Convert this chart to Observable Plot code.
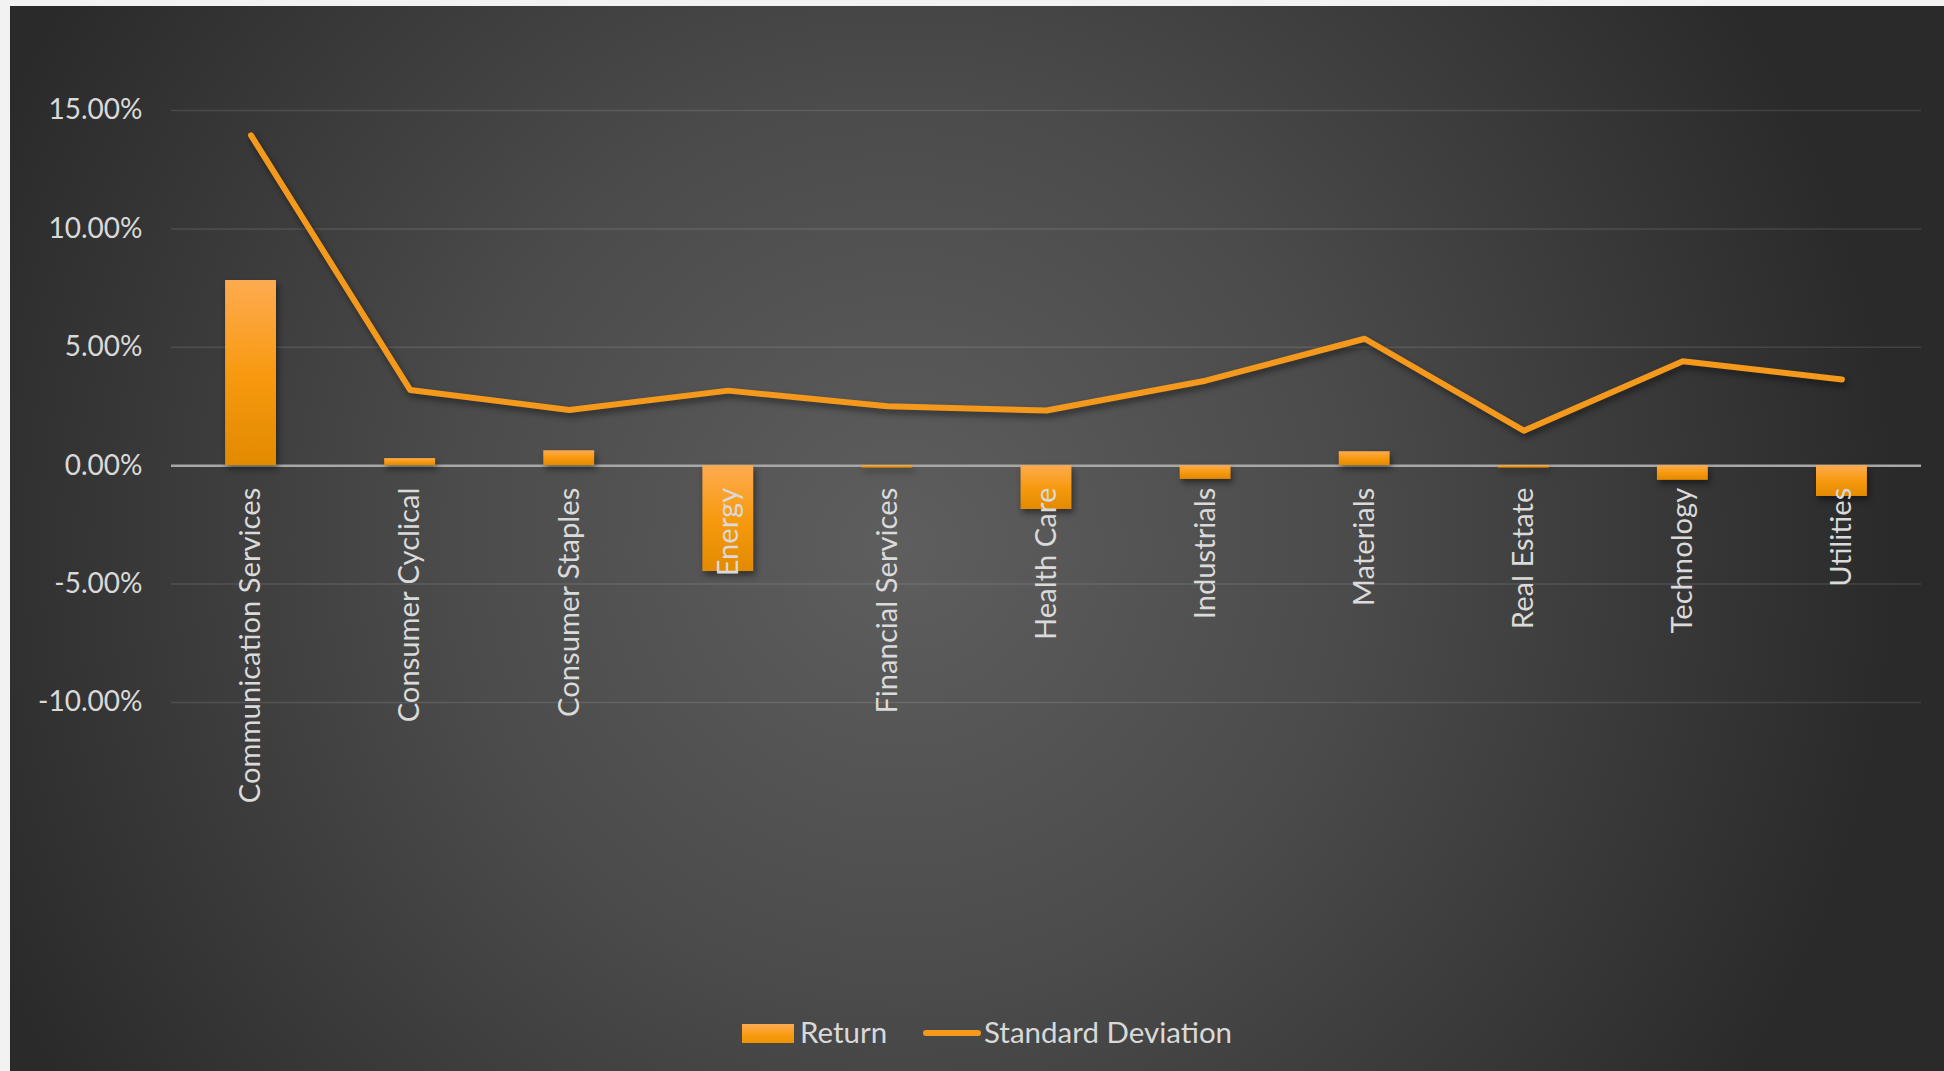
<!DOCTYPE html>
<html>
<head>
<meta charset="utf-8">
<script src="https://cdn.jsdelivr.net/npm/d3@7"></script>
<script src="https://cdn.jsdelivr.net/npm/@observablehq/plot@0.6"></script>
<style>
  html, body { margin: 0; padding: 0; background: #f2f2f2; width: 1944px; height: 1071px; overflow: hidden; }
  #panel {
    position: absolute; left: 10px; top: 6px; width: 1934px; height: 1065px;
    background: radial-gradient(circle 1000px at 890px 540px, #5e5e5e 0%, #4b4b4b 45%, #2a2a2a 100%);
    font-family: Lato, "Open Sans", sans-serif;
  }
  #chart { position: absolute; left: 0; top: 0; }
  #legend { position: absolute; left: 0; top: 0; color: #d9d9d9; font-size: 29.5px; }
  #legend > * { position: absolute; }
  #legend span { top: 1008px; line-height: 36px; white-space: nowrap; }
  .sw-bar { left: 732px; top: 1018px; width: 52px; height: 19px; background: linear-gradient(#fdab51, #f89a10 60%, #ef9300); }
  .sw-line { left: 913px; top: 1024px; width: 58px; height: 6px; border-radius: 3px; background: #f5991c; }
</style>
</head>
<body>
<div id="panel">
  <div id="chart"></div>
  <div id="legend">
    <div class="sw-bar"></div><span style="left:790px">Return</span>
    <div class="sw-line"></div><span style="left:974px">Standard Deviation</span>
  </div>
</div>
<script>
// Sector returns and their standard deviations
const categories = [
  "Communication Services", "Consumer Cyclical", "Consumer Staples", "Energy",
  "Financial Services", "Health Care", "Industrials", "Materials",
  "Real Estate", "Technology", "Utilities"
];
const returns = [0.0782, 0.0030, 0.0063, -0.0447, -0.0010, -0.0185, -0.0058, 0.0059, -0.0010, -0.0062, -0.0130];
const stdDev  = [0.1395, 0.0320, 0.0235, 0.0317, 0.0251, 0.0233, 0.0359, 0.0536, 0.0148, 0.0441, 0.0364];
const yTicks  = [-0.10, -0.05, 0, 0.05, 0.10, 0.15];

const table = categories.map((c, i) => ({category: c, ret: returns[i], sd: stdDev[i]}));
const pct = v => (v * 100).toFixed(2) + "%";

const chart = Plot.plot({
  width: 1934,
  height: 900,
  marginLeft: 161,
  marginRight: 23,
  marginTop: 104,
  marginBottom: 204,
  style: {background: "transparent", color: "#d9d9d9", fontFamily: "Lato, 'Open Sans', sans-serif", fontSize: "28px", overflow: "visible"},
  x: {domain: categories, paddingInner: 0.68, paddingOuter: 0.34, round: false, axis: null},
  y: {domain: [-0.10, 0.15], ticks: yTicks, tickFormat: pct, tickSize: 0, tickPadding: 29, label: null},
  marks: [
    Plot.ruleY(yTicks.filter(d => d !== 0), {stroke: "#ffffff", strokeOpacity: 0.11, strokeWidth: 1.5}),
    Plot.ruleY([0], {stroke: "#a8a8a8", strokeWidth: 2.5}),
    Plot.barY(table, {x: "category", y1: 0, y2: "ret", fill: "url(#barGrad)"}),
    Plot.line(table, {x: "category", y: "sd", stroke: "#f5991c", strokeWidth: 6, strokeLinecap: "round", strokeLinejoin: "round"}),
    Plot.text(table, {x: "category", y: 0, text: "category", rotate: -90, textAnchor: "end", dy: 22, fill: "#dadada", fontSize: 29.2})
  ]
});

// Orange gradient fill for the bars
const svg = d3.select(chart);
const grad = svg.insert("defs", ":first-child").append("linearGradient")
  .attr("id", "barGrad").attr("x1", 0).attr("y1", 0).attr("x2", 0).attr("y2", 1);
grad.append("stop").attr("offset", "0%").attr("stop-color", "#fdab51");
grad.append("stop").attr("offset", "50%").attr("stop-color", "#f89a10");
grad.append("stop").attr("offset", "100%").attr("stop-color", "#e28a00");

// Soft shadows under the bars and the line
svg.selectAll("g[aria-label='bar'], g[aria-label='line']")
  .style("filter", "drop-shadow(2px 4px 3px rgba(0,0,0,0.45))");

document.getElementById("chart").appendChild(chart);
</script>
</body>
</html>
